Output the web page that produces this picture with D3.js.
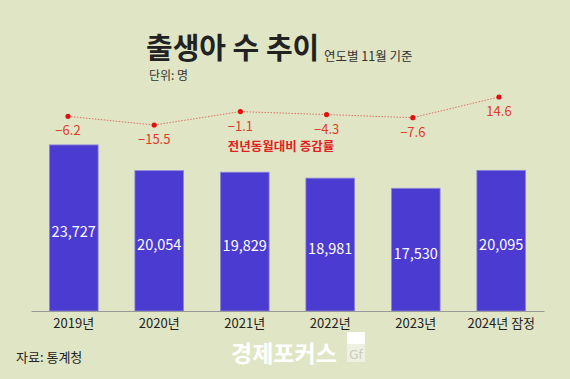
<!DOCTYPE html>
<html>
<head>
<meta charset="utf-8">
<script src="https://cdn.jsdelivr.net/npm/d3@7"></script>
<style>
  body { margin: 0; background: #e0e6c5; }
  svg { display: block; }
</style>
</head>
<body>
<script>
const years = ["2019년", "2020년", "2021년", "2022년", "2023년", "2024년 잠정"];
const births = [23727, 20054, 19829, 18981, 17530, 20095];
const changes = [-6.2, -15.5, -1.1, -4.3, -7.6, 14.6];

const W = 570, H = 379;
const font = "'Noto Sans CJK KR', 'Noto Sans', sans-serif";

const svg = d3.select("body").append("svg")
  .attr("width", W)
  .attr("height", H)
  .style("background-color", "#e0e6c5");

// title block
svg.append("text")
  .attr("x", 146)
  .attr("y", 59)
  .attr("font-family", font)
  .attr("font-size", "29px")
  .attr("font-weight", "bold")
  .attr("fill", "#222")
  .text("출생아 수 추이");

svg.append("text")
  .attr("x", 324)
  .attr("y", 61)
  .attr("font-family", font)
  .attr("font-size", "12.5px")
  .attr("fill", "#333")
  .text("연도별 11월 기준");

svg.append("text")
  .attr("x", 149)
  .attr("y", 80)
  .attr("font-family", font)
  .attr("font-size", "12px")
  .attr("fill", "#333")
  .text("단위: 명");

// bars
const x = d3.scaleBand()
  .domain(years)
  .range([31, 544])
  .paddingInner(0.43)
  .paddingOuter(0.215);

const y = d3.scaleLinear()
  .domain([0, 24000])
  .range([311, 143]);

svg.selectAll(".bar")
  .data(births)
  .enter()
  .append("rect")
  .attr("class", "bar")
  .attr("x", (d, i) => x(years[i]))
  .attr("y", d => y(d))
  .attr("width", x.bandwidth())
  .attr("height", d => y(0) - y(d))
  .attr("fill", "#4c3bd0")
  .attr("stroke", "#8f88dc")
  .attr("stroke-width", 0.8);

svg.selectAll(".val")
  .data(births)
  .enter()
  .append("text")
  .attr("class", "val")
  .attr("x", (d, i) => x(years[i]) + x.bandwidth() / 2)
  .attr("y", d => (y(d) + y(0)) / 2 + 9)
  .attr("text-anchor", "middle")
  .attr("font-family", font)
  .attr("font-size", "14.5px")
  .attr("fill", "white")
  .text(d => d3.format(",")(d));

// x axis
const xAxis = svg.append("g")
  .attr("transform", "translate(0,311)")
  .call(d3.axisBottom(x).tickSize(0).tickPadding(8));
xAxis.select(".domain").attr("stroke", "#999").attr("stroke-width", 1);
xAxis.selectAll("text")
  .attr("font-family", font)
  .attr("font-size", "13px")
  .attr("fill", "#222");

// change line
const xp = d3.scalePoint()
  .domain(years)
  .range([68, 499]);

const yc = d3.scaleLinear()
  .domain([-15.5, 14.6])
  .range([125, 97]);

const line = d3.line()
  .x((d, i) => xp(years[i]))
  .y(d => yc(d));

svg.append("path")
  .datum(changes)
  .attr("d", line)
  .attr("fill", "none")
  .attr("stroke", "#d9534f")
  .attr("stroke-width", 1)
  .attr("stroke-dasharray", "1.5,1.5")
  .attr("opacity", 0.8);

svg.selectAll(".dot")
  .data(changes)
  .enter()
  .append("circle")
  .attr("class", "dot")
  .attr("cx", (d, i) => xp(years[i]))
  .attr("cy", d => yc(d))
  .attr("r", 2.6)
  .attr("fill", "#e01010");

svg.selectAll(".chg")
  .data(changes)
  .enter()
  .append("text")
  .attr("class", "chg")
  .attr("x", (d, i) => xp(years[i]))
  .attr("y", d => yc(d) + 19)
  .attr("text-anchor", "middle")
  .attr("font-family", font)
  .attr("font-size", "13px")
  .attr("fill", "#e03a2a")
  .text(d => d < 0 ? "−" + Math.abs(d) : d);

svg.append("text")
  .attr("x", 281)
  .attr("y", 151)
  .attr("text-anchor", "middle")
  .attr("font-family", font)
  .attr("font-size", "12.5px")
  .attr("font-weight", "bold")
  .attr("fill", "#e02020")
  .text("전년동월대비 증감률");

// source and watermark
svg.append("text")
  .attr("x", 16)
  .attr("y", 362)
  .attr("font-family", font)
  .attr("font-size", "13px")
  .attr("fill", "#222")
  .text("자료: 통계청");

svg.append("text")
  .attr("x", 231)
  .attr("y", 362)
  .attr("font-family", font)
  .attr("font-size", "23px")
  .attr("font-weight", "bold")
  .attr("fill", "white")
  .text("경제포커스");

svg.append("rect")
  .attr("x", 347)
  .attr("y", 332)
  .attr("width", 18)
  .attr("height", 12)
  .attr("fill", "white");

svg.append("rect")
  .attr("x", 347)
  .attr("y", 344)
  .attr("width", 18)
  .attr("height", 18)
  .attr("fill", "#eef1e2");

svg.append("text")
  .attr("x", 356)
  .attr("y", 359)
  .attr("text-anchor", "middle")
  .attr("font-family", "'DejaVu Sans', sans-serif")
  .attr("font-size", "12px")
  .attr("fill", "#c8ccbb")
  .text("Gf");
</script>
</body>
</html>
